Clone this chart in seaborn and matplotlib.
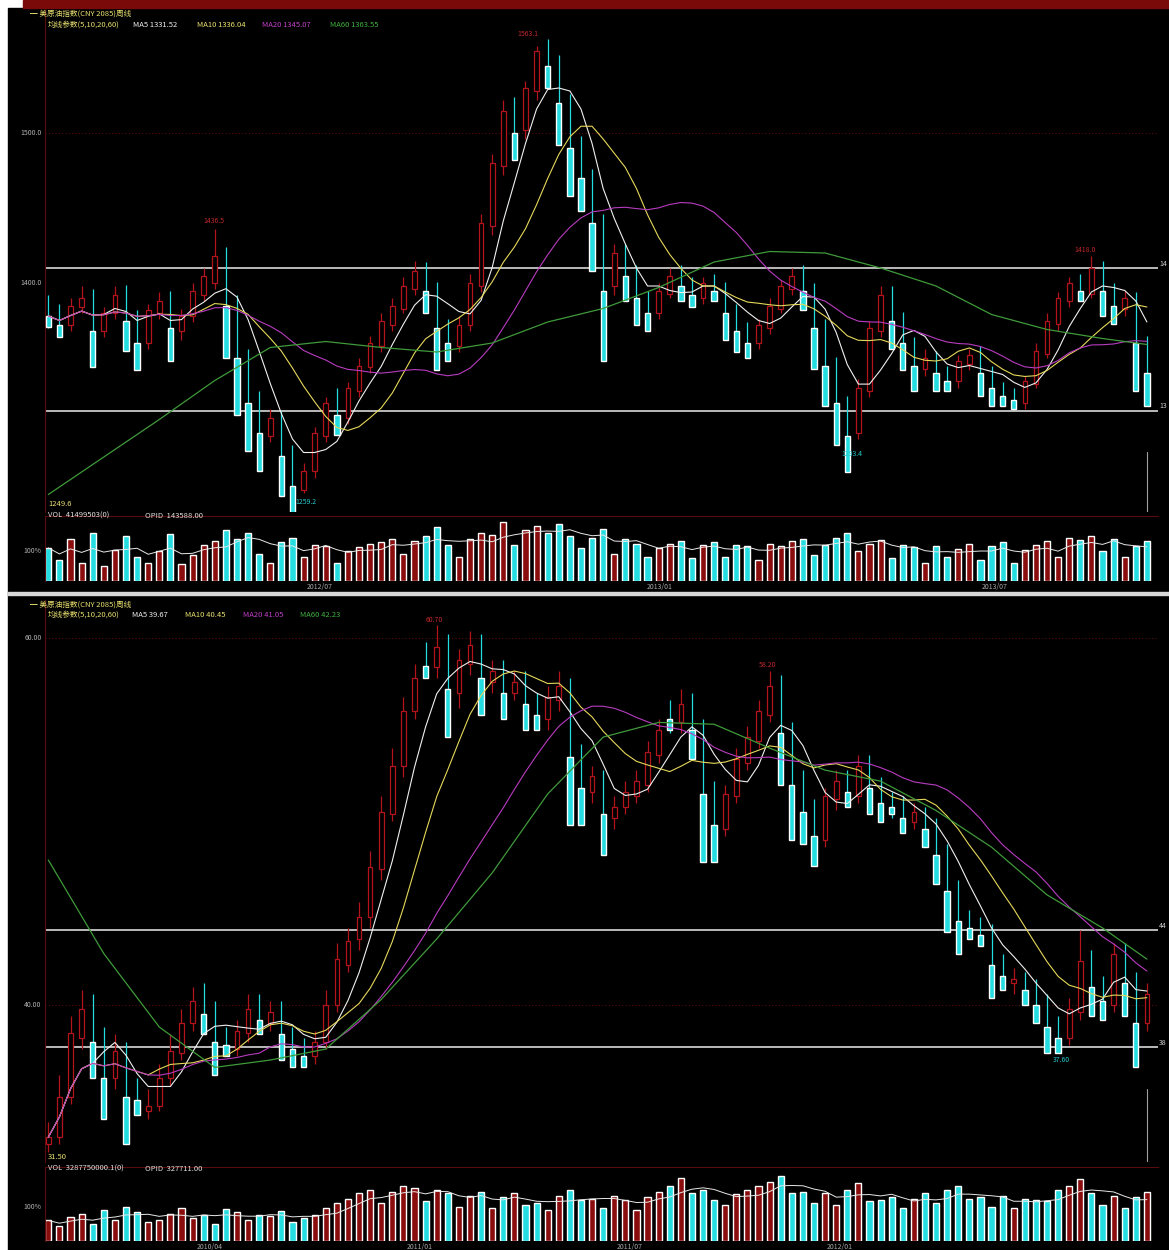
import numpy as np
import pandas as pd
import matplotlib
matplotlib.use("Agg")
import matplotlib.pyplot as plt
from matplotlib.patches import Rectangle
import seaborn as sns

# ---------------- top panel data (weekly candles) ----------------
top_open = [1385, 1380, 1372, 1384, 1392, 1368, 1380, 1395, 1378, 1360, 1380, 1392, 1368, 1378, 1392,
            1400, 1420, 1388, 1352, 1325, 1298, 1312, 1290, 1262, 1275, 1298, 1325, 1310, 1328, 1344,
            1358, 1372, 1383, 1396, 1410, 1398, 1372, 1358, 1372, 1398, 1438, 1478, 1518, 1502, 1528,
            1560, 1548, 1522, 1492, 1472, 1442, 1398, 1422, 1408, 1392, 1380, 1393, 1408, 1400, 1390,
            1402, 1398, 1382, 1370, 1360, 1370, 1383, 1396, 1408, 1397, 1372, 1348, 1322, 1300, 1328,
            1368, 1394, 1378, 1362, 1343, 1352, 1342, 1335, 1346, 1355, 1342, 1332, 1328, 1320, 1333,
            1353, 1373, 1388, 1402, 1393, 1412, 1397, 1383, 1392, 1362]
top_close = [1378, 1372, 1385, 1390, 1368, 1380, 1392, 1375, 1360, 1382, 1388, 1370, 1378, 1395, 1405,
             1418, 1385, 1350, 1320, 1300, 1310, 1285, 1265, 1275, 1300, 1320, 1312, 1330, 1345, 1360,
             1375, 1385, 1398, 1408, 1395, 1370, 1360, 1372, 1400, 1440, 1480, 1515, 1500, 1530, 1555,
             1545, 1520, 1490, 1470, 1440, 1395, 1420, 1405, 1390, 1380, 1395, 1405, 1398, 1392, 1400,
             1395, 1380, 1368, 1360, 1372, 1385, 1398, 1405, 1395, 1370, 1345, 1320, 1298, 1330, 1370,
             1392, 1375, 1360, 1345, 1350, 1340, 1335, 1348, 1352, 1340, 1330, 1325, 1322, 1335, 1355,
             1375, 1390, 1400, 1395, 1410, 1395, 1385, 1390, 1360, 1340]
top_high = [1392, 1386, 1390, 1398, 1396, 1384, 1398, 1399, 1382, 1386, 1394, 1395, 1383, 1400, 1410,
            1436, 1424, 1392, 1356, 1328, 1316, 1315, 1292, 1280, 1304, 1324, 1330, 1334, 1350, 1365,
            1380, 1390, 1404, 1415, 1414, 1401, 1376, 1378, 1406, 1446, 1486, 1522, 1524, 1535, 1558,
            1563, 1552, 1526, 1498, 1476, 1446, 1426, 1426, 1412, 1395, 1400, 1410, 1412, 1404, 1404,
            1406, 1401, 1386, 1374, 1376, 1390, 1402, 1410, 1412, 1400, 1376, 1351, 1325, 1336, 1375,
            1398, 1398, 1381, 1364, 1356, 1355, 1345, 1352, 1356, 1358, 1345, 1334, 1330, 1338, 1360,
            1380, 1394, 1404, 1406, 1418, 1415, 1400, 1395, 1394, 1365]
top_low = [1370, 1365, 1368, 1380, 1362, 1364, 1376, 1370, 1354, 1356, 1376, 1364, 1362, 1374, 1388,
           1396, 1380, 1344, 1314, 1292, 1294, 1278, 1259, 1260, 1270, 1294, 1306, 1306, 1324, 1340,
           1354, 1368, 1380, 1392, 1390, 1364, 1352, 1354, 1368, 1394, 1432, 1472, 1494, 1496, 1522,
           1540, 1514, 1484, 1464, 1432, 1388, 1392, 1400, 1384, 1372, 1376, 1390, 1392, 1386, 1386,
           1390, 1374, 1362, 1354, 1356, 1366, 1380, 1392, 1390, 1364, 1340, 1314, 1293, 1296, 1324,
           1364, 1370, 1354, 1340, 1338, 1334, 1330, 1330, 1342, 1336, 1324, 1320, 1318, 1316, 1330,
           1350, 1368, 1384, 1390, 1390, 1390, 1380, 1378, 1354, 1335]
top_vol = [55, 35, 70, 30, 80, 25, 52, 75, 40, 30, 50, 78, 28, 44, 60, 66, 85, 70, 80, 45,
           30, 65, 72, 40, 60, 58, 30, 50, 56, 62, 64, 70, 45, 66, 74, 90, 60, 40, 70, 80,
           76, 98, 60, 85, 92, 80, 95, 74, 55, 72, 86, 45, 70, 62, 40, 55, 62, 66, 38, 60,
           64, 40, 60, 58, 35, 62, 58, 66, 70, 44, 60, 72, 80, 50, 62, 68, 38, 60, 56, 30,
           58, 40, 54, 62, 35, 58, 64, 30, 52, 60, 66, 40, 72, 68, 74, 50, 70, 40, 58, 66]
top_ma60_idx = [0, 5, 10, 15, 20, 25, 30, 35, 40, 45, 50, 55, 60, 65, 70, 75, 80, 85, 90, 95, 99]
top_ma60 = [1259, 1284, 1309, 1335, 1357, 1361, 1357, 1354, 1360, 1374, 1383, 1397, 1414, 1421,
            1420, 1410, 1398, 1379, 1369, 1363, 1359]

# ---------------- bottom panel data ----------------
bot_open = [32.4, 32.8, 35.0, 38.2, 40.0, 38.2, 36.0, 37.6, 35.6, 34.2, 34.5, 36.0, 37.4, 39.0, 40.6,
            39.8, 38.4, 37.6, 38.5, 40.0, 39.0, 39.8, 38.6, 37.8, 37.2, 38.0, 40.0, 42.2, 43.6, 44.8,
            47.4, 50.4, 53.0, 56.0, 59.2, 58.4, 59.8, 57.0, 58.6, 59.8, 57.6, 58.4, 57.0, 57.8, 56.6,
            55.6, 56.6, 57.2, 53.8, 51.6, 52.6, 50.2, 50.8, 51.4, 52.0, 53.6, 56.2, 55.4, 56.6, 55.2,
            51.8, 49.6, 51.4, 53.2, 54.4, 55.8, 57.6, 55.0, 52.2, 50.8, 49.0, 51.2, 52.4, 51.4, 53.2,
            52.0, 51.2, 51.0, 50.0, 50.6, 49.8, 48.4, 46.4, 44.8, 44.4, 44.0, 42.4, 41.2, 41.6, 41.0,
            40.2, 39.0, 38.2, 39.6, 42.6, 41.2, 40.0, 43.0, 41.4, 39.0]
bot_close = [32.8, 35.0, 38.5, 39.8, 38.0, 36.0, 37.5, 35.0, 34.8, 34.5, 36.0, 37.5, 39.0, 40.2, 39.5,
             38.0, 37.8, 38.6, 39.8, 39.2, 39.6, 38.4, 37.6, 37.2, 38.0, 40.0, 42.5, 43.5, 44.8, 47.5,
             50.5, 53.0, 56.0, 57.8, 58.5, 59.5, 57.2, 58.8, 59.6, 57.8, 58.2, 57.0, 57.6, 56.4, 55.8,
             56.8, 57.4, 53.5, 51.8, 52.5, 50.4, 50.8, 51.6, 52.2, 53.8, 55.0, 55.6, 56.4, 55.0, 51.5,
             49.8, 51.5, 53.4, 54.6, 56.0, 57.4, 54.8, 52.0, 50.5, 49.2, 51.4, 52.2, 51.6, 53.0, 51.8,
             51.0, 50.8, 50.2, 50.5, 49.6, 48.2, 46.2, 44.6, 44.2, 43.8, 42.2, 41.6, 41.4, 40.8, 40.0,
             38.8, 38.2, 39.8, 42.4, 41.0, 40.2, 42.8, 41.2, 39.0, 40.6]
bot_high = [33.6, 36.2, 39.4, 40.8, 40.6, 38.8, 38.4, 38.0, 36.0, 35.4, 36.8, 38.4, 39.8, 41.0, 41.2,
            40.2, 38.8, 39.2, 40.6, 40.6, 40.2, 40.2, 38.8, 38.2, 38.6, 40.8, 43.4, 44.2, 45.6, 48.4,
            51.4, 54.0, 56.8, 58.6, 59.8, 60.7, 60.2, 59.4, 60.4, 60.2, 58.8, 58.8, 58.2, 58.2, 57.0,
            57.4, 58.2, 57.8, 54.2, 53.0, 52.8, 51.4, 52.2, 52.8, 54.4, 55.6, 56.6, 57.2, 57.0, 55.6,
            52.2, 52.0, 54.0, 55.2, 56.6, 58.2, 58.0, 55.4, 52.8, 51.2, 51.8, 52.8, 52.8, 53.6, 53.6,
            52.4, 51.6, 51.4, 51.0, 50.8, 50.2, 48.8, 46.8, 45.2, 44.8, 44.4, 42.8, 42.0, 41.8, 41.4,
            40.6, 39.4, 40.4, 44.1, 43.0, 41.6, 43.4, 43.4, 41.8, 41.2]
bot_low = [32.0, 32.4, 34.6, 37.6, 37.4, 35.4, 35.4, 34.6, 34.2, 33.8, 34.2, 35.6, 37.0, 38.6, 39.0,
           37.4, 37.2, 37.2, 38.0, 38.8, 38.6, 37.8, 37.0, 36.6, 36.8, 37.6, 39.6, 41.8, 43.0, 44.2,
           46.8, 50.0, 52.4, 55.6, 57.8, 57.8, 56.4, 56.2, 58.0, 57.0, 57.0, 56.4, 56.6, 55.8, 55.2,
           55.0, 56.0, 53.0, 51.2, 51.0, 49.8, 49.6, 50.4, 51.0, 51.6, 53.2, 54.8, 54.8, 54.4, 51.0,
           49.2, 49.2, 51.0, 52.8, 54.0, 55.4, 54.2, 51.4, 50.0, 48.6, 48.6, 50.6, 51.0, 51.0, 51.2,
           50.6, 50.2, 49.6, 49.6, 49.0, 47.6, 45.6, 44.0, 43.6, 43.2, 41.6, 41.0, 40.6, 40.2, 39.4,
           38.2, 37.6, 37.8, 39.2, 40.4, 39.6, 39.6, 40.8, 38.4, 38.6]
bot_vol = [30, 22, 35, 40, 25, 45, 30, 50, 42, 28, 30, 40, 48, 34, 38, 25, 46, 42, 30, 38,
           36, 44, 28, 34, 38, 48, 55, 62, 70, 74, 56, 72, 80, 78, 58, 74, 70, 50, 66, 72,
           48, 64, 70, 52, 56, 45, 66, 74, 60, 62, 48, 66, 60, 45, 64, 72, 80, 92, 70, 74,
           60, 52, 68, 74, 80, 86, 95, 70, 72, 56, 70, 52, 74, 85, 58, 60, 64, 48, 62, 70,
           56, 74, 80, 62, 64, 50, 66, 48, 62, 60, 58, 74, 80, 90, 70, 52, 66, 48, 64, 72]
bot_ma60_idx = [0, 5, 10, 15, 20, 25, 30, 35, 40, 45, 50, 55, 60, 65, 70, 75, 80, 85, 90, 95, 99]
bot_ma60 = [47.9, 42.8, 38.8, 36.6, 37.0, 37.6, 40.3, 43.6, 47.2, 51.5, 54.6, 55.4, 55.3, 54.0,
            52.8, 52.2, 50.6, 48.6, 46.0, 44.2, 42.5]

top_dates = ["2012/07", "2013/01", "2013/07"]
top_date_px = [320, 660, 995]
bot_dates = ["2010/04", "2011/01", "2011/07", "2012/01"]
bot_date_px = [210, 420, 630, 840]

# ---------------- style ----------------
sns.set_style("dark")
plt.rcParams['font.family'] = ['Noto Sans CJK SC', 'DejaVu Sans']

W, H = 1169, 1250
UP, DOWN = '#b3141c', '#25dce0'
GRID = '#5a0c0c'
fig = plt.figure(figsize=(W / 100, H / 100), dpi=100, facecolor='white')
# background pieces sit below the axes
fig.patches.append(Rectangle((8 / W, 0), 1 - 8 / W, 1 - 8 / H, transform=fig.transFigure,
                             color='black', zorder=-2))
fig.patches.append(Rectangle((23 / W, 1 - 8 / H), 1 - 23 / W, 8 / H, transform=fig.transFigure,
                             color='#7a0a0a', zorder=-2))
fig.patches.append(Rectangle((8 / W, 1 - 595 / H), 1 - 8 / W, 3 / H, transform=fig.transFigure,
                             color='#d8d8d8', zorder=-1))


def box(x0, y0, x1, y1):
    return [x0 / W, 1 - y1 / H, (x1 - x0) / W, (y1 - y0) / H]


def ftext(x, y, s, color, size=5.5, **kw):
    fig.text(x / W, 1 - y / H, s, color=color, fontsize=size, va='center', **kw)


def clean(ax):
    ax.set_facecolor('none')
    ax.set_xticks([])
    ax.set_yticks([])
    for s in ax.spines.values():
        s.set_visible(False)
    ax.spines['left'].set_visible(True)
    ax.spines['left'].set_color(GRID)
    ax.grid(False)


def panel(y0, y1, vy0, vy1, ylim, o, c, h, l, vol, ma_idx, ma60, grid_lv, white_lv, right_lbl):
    n = len(c)
    idx = np.arange(n)
    df = pd.DataFrame({'i': idx, 'open': o, 'close': c, 'high': h, 'low': l, 'vol': vol})
    df['ma5'] = df['close'].rolling(5, min_periods=1).mean()
    df['ma10'] = df['close'].rolling(10, min_periods=1).mean()
    df['ma20'] = df['close'].rolling(20, min_periods=1).mean()
    df['vma'] = df['vol'].rolling(5, min_periods=1).mean()
    up = df[df['close'] >= df['open']]
    dn = df[df['close'] < df['open']]

    ax = fig.add_axes(box(45, y0, 1158, y1))
    clean(ax)
    ax.set_xlim(-0.3, n)
    ax.set_ylim(*ylim)
    for lv in grid_lv:
        ax.axhline(lv, color=GRID, lw=0.8, ls=(0, (1, 2)))
    for lv, lab in zip(white_lv, right_lbl):
        ax.axhline(lv, color='#c8c8c8', lw=1.3)
        ax.text(n + 0.1, lv, lab, color='#d0d0d0', fontsize=5, va='bottom', ha='left', clip_on=False)

    ax.vlines(up['i'], up['low'], up['high'], color=UP, lw=0.9)
    ax.bar(up['i'], up['close'] - up['open'], bottom=up['open'], width=0.42,
           facecolor='black', edgecolor=UP, lw=0.9, zorder=3)
    ax.vlines(dn['i'], dn['low'], dn['high'], color=DOWN, lw=0.9)
    ax.bar(dn['i'], dn['close'] - dn['open'], bottom=dn['close'], width=0.48,
           color=DOWN, zorder=3)

    sns.lineplot(data=df, x='i', y='ma5', ax=ax, color='#f0f0f0', lw=0.8, zorder=4)
    sns.lineplot(data=df, x='i', y='ma10', ax=ax, color='#e6d85a', lw=0.8, zorder=4)
    sns.lineplot(data=df, x='i', y='ma20', ax=ax, color='#b83cc0', lw=0.8, zorder=4)
    sns.lineplot(x=ma_idx, y=ma60, ax=ax, color='#3f9a3a', lw=0.9, zorder=4)
    ax.set_xlabel('')
    ax.set_ylabel('')

    axv = fig.add_axes(box(45, vy0, 1158, vy1))
    clean(axv)
    axv.spines['top'].set_visible(True)
    axv.spines['top'].set_color(GRID)
    axv.set_xlim(-0.3, n)
    axv.set_ylim(0, 108)
    vu = df[df['close'] >= df['open']]
    vd = df[df['close'] < df['open']]
    axv.bar(vu['i'], vu['vol'], width=0.55, color='#8a0c0c')
    axv.bar(vd['i'], vd['vol'], width=0.55, color=DOWN)
    sns.lineplot(data=df, x='i', y='vma', ax=axv, color='#e8e8e8', lw=0.7)
    axv.set_xlabel('')
    axv.set_ylabel('')
    axv.text(-0.6, 50, '100%', color='#b0b0b0', fontsize=5, ha='right', va='center', clip_on=False)
    return ax, df


# ---------------- top panel ----------------
ax1, d1 = panel(10, 512, 516, 581, (1500 - (512 - 133) / 1.5, 1500 + 123 / 1.5),
                top_open, top_close, top_high, top_low, top_vol, top_ma60_idx, top_ma60,
                [1500], [1410, 1315], ['14', '13'])
for lv, lab in [(1500, '1500.0'), (1400, '1400.0')]:
    ax1.text(-0.6, lv, lab, color='#b0b0b0', fontsize=5, ha='right', va='center', clip_on=False)
ax1.axvline(99, ymin=0.0, ymax=0.12, color='#a0a0a0', lw=0.8)
ax1.annotate('1436.5', (15, 1436), xytext=(-8, 4), textcoords='offset points', color='#c0282c', fontsize=5)
ax1.annotate('1563.1', (45, 1563), xytext=(-22, 2), textcoords='offset points', color='#c0282c', fontsize=5)
ax1.annotate('1259.2', (22, 1259), xytext=(2, -7), textcoords='offset points', color='#25c8cc', fontsize=5)
ax1.annotate('1293.4', (72, 1293), xytext=(-4, -9), textcoords='offset points', color='#25c8cc', fontsize=5)
ax1.annotate('1418.0', (94, 1418), xytext=(-12, 3), textcoords='offset points', color='#c0282c', fontsize=5)

ftext(30, 14, '━ 美原油指数(CNY 2085)周线', '#e8e070')
ftext(48, 25, '均线参数(5,10,20,60)', '#e8e070')
ftext(133, 25, 'MA5 1331.52', '#f0f0f0')
ftext(197, 25, 'MA10 1336.04', '#e8e070')
ftext(262, 25, 'MA20 1345.07', '#c040c8')
ftext(330, 25, 'MA60 1363.55', '#40b040')
ftext(48, 504, '1249.6', '#e8e070')
ftext(48, 516, 'VOL  41499503(0)', '#e0e0e0')
ftext(145, 516, 'OPID  143588.00', '#e0e0e0')
for s, x in zip(top_dates, top_date_px):
    ftext(x, 587, s, '#a8a8a8', size=5, ha='center')

# ---------------- bottom panel ----------------
ax2, d2 = panel(600, 1162, 1167, 1241, (60 - (1162 - 638) / 18.35, 60 + 38 / 18.35),
                bot_open, bot_close, bot_high, bot_low, bot_vol, bot_ma60_idx, bot_ma60,
                [60, 40], [44.1, 37.7], ['44', '38'])
for lv, lab in [(60, '60.00'), (40, '40.00')]:
    ax2.text(-0.6, lv, lab, color='#b0b0b0', fontsize=5, ha='right', va='center', clip_on=False)
ax2.axvline(99, ymin=0.0, ymax=0.13, color='#a0a0a0', lw=0.8)
ax2.annotate('60.70', (35, 60.7), xytext=(-8, 2), textcoords='offset points', color='#c0282c', fontsize=5)
ax2.annotate('58.20', (65, 58.2), xytext=(-8, 3), textcoords='offset points', color='#c0282c', fontsize=5)
ax2.annotate('37.60', (91, 37.6), xytext=(-4, -9), textcoords='offset points', color='#25c8cc', fontsize=5)

ftext(30, 605, '━ 美原油指数(CNY 2085)周线', '#e8e070')
ftext(48, 615, '均线参数(5,10,20,60)', '#e8e070')
ftext(132, 615, 'MA5 39.67', '#f0f0f0')
ftext(185, 615, 'MA10 40.45', '#e8e070')
ftext(243, 615, 'MA20 41.05', '#c040c8')
ftext(300, 615, 'MA60 42.23', '#40b040')
ftext(48, 1157, '31.50', '#e8e070')
ftext(48, 1169, 'VOL  3287750000.1(0)', '#e0e0e0')
ftext(145, 1169, 'OPID  327711.00', '#e0e0e0')
for s, x in zip(bot_dates, bot_date_px):
    ftext(x, 1247, s, '#a8a8a8', size=5, ha='center')

fig.savefig('out.png', dpi=100, facecolor=fig.get_facecolor())
